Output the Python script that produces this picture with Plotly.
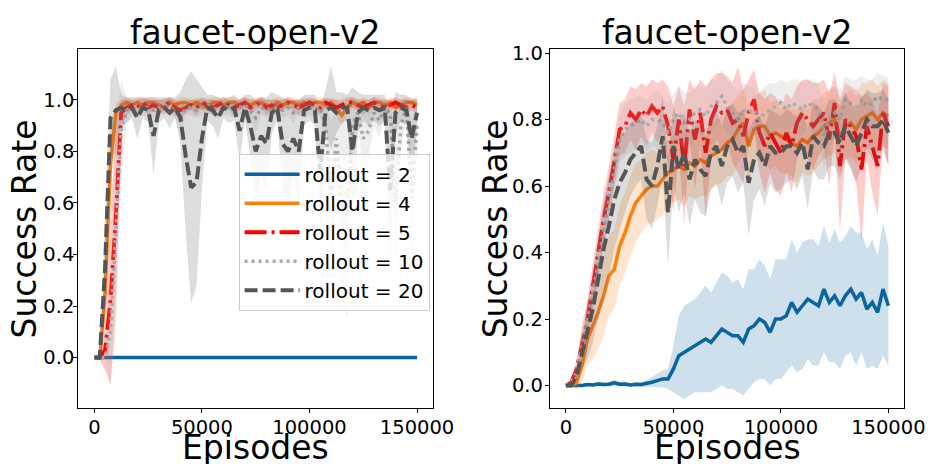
import plotly.graph_objects as go

W, H = 947, 464

# ---------------- data ----------------
episodes = list(range(0, 150001, 2500))  # 61 evaluation points
labels = ["rollout = 2", "rollout = 4", "rollout = 5", "rollout = 10", "rollout = 20"]

# ---- left panel ----
left_r2_mean = [
    0.00, 0.00, 0.00, 0.00, 0.00, 0.00, 0.00, 0.00, 0.00, 0.00,
    0.00, 0.00, 0.00, 0.00, 0.00, 0.00, 0.00, 0.00, 0.00, 0.00,
    0.00, 0.00, 0.00, 0.00, 0.00, 0.00, 0.00, 0.00, 0.00, 0.00,
    0.00, 0.00, 0.00, 0.00, 0.00, 0.00, 0.00, 0.00, 0.00, 0.00,
    0.00, 0.00, 0.00, 0.00, 0.00, 0.00, 0.00, 0.00, 0.00, 0.00,
    0.00, 0.00, 0.00, 0.00, 0.00, 0.00, 0.00, 0.00, 0.00, 0.00,
    0.00]
left_r2_std = [
    0.00, 0.00, 0.00, 0.00, 0.00, 0.00, 0.00, 0.00, 0.00, 0.00,
    0.00, 0.00, 0.00, 0.00, 0.00, 0.00, 0.00, 0.00, 0.00, 0.00,
    0.00, 0.00, 0.00, 0.00, 0.00, 0.00, 0.00, 0.00, 0.00, 0.00,
    0.00, 0.00, 0.00, 0.00, 0.00, 0.00, 0.00, 0.00, 0.00, 0.00,
    0.00, 0.00, 0.00, 0.00, 0.00, 0.00, 0.00, 0.00, 0.00, 0.00,
    0.00, 0.00, 0.00, 0.00, 0.00, 0.00, 0.00, 0.00, 0.00, 0.00,
    0.00]
left_r4_mean = [
    0.00, 0.00, 0.25, 0.75, 0.95, 0.98, 0.99, 0.98, 0.99, 0.98,
    0.99, 0.99, 0.98, 0.97, 0.99, 0.98, 0.99, 0.99, 0.98, 0.99,
    0.98, 0.97, 0.99, 0.99, 0.98, 0.99, 0.99, 0.98, 0.99, 0.98,
    0.99, 0.99, 0.98, 0.97, 0.99, 0.98, 0.99, 0.99, 0.98, 0.99,
    0.98, 0.99, 0.99, 0.98, 0.99, 0.97, 0.94, 0.97, 0.99, 0.98,
    0.99, 0.97, 0.99, 0.99, 0.98, 0.99, 0.97, 0.98, 0.99, 0.99,
    0.98]
left_r4_std = [
    0.00, 0.01, 0.15, 0.12, 0.04, 0.02, 0.02, 0.02, 0.02, 0.02,
    0.02, 0.02, 0.02, 0.03, 0.02, 0.02, 0.02, 0.02, 0.02, 0.02,
    0.02, 0.03, 0.02, 0.02, 0.02, 0.02, 0.02, 0.02, 0.02, 0.02,
    0.02, 0.02, 0.02, 0.03, 0.02, 0.02, 0.02, 0.02, 0.02, 0.02,
    0.02, 0.02, 0.02, 0.02, 0.02, 0.03, 0.04, 0.03, 0.02, 0.02,
    0.02, 0.03, 0.02, 0.02, 0.02, 0.02, 0.03, 0.02, 0.02, 0.02,
    0.02]
left_r5_mean = [
    0.00, 0.00, 0.03, 0.22, 0.55, 0.95, 0.97, 0.98, 0.97, 0.99,
    0.97, 0.98, 0.97, 0.98, 0.99, 0.97, 0.96, 0.97, 0.98, 0.97,
    0.99, 0.98, 0.97, 0.98, 0.99, 0.98, 0.97, 0.98, 0.99, 0.97,
    0.98, 0.99, 0.97, 0.98, 0.97, 0.98, 0.99, 0.98, 0.97, 0.98,
    0.99, 0.98, 0.97, 0.99, 0.98, 0.97, 0.98, 0.99, 0.99, 0.98,
    0.97, 0.98, 0.99, 0.98, 0.97, 0.98, 0.99, 0.98, 0.97, 0.98,
    0.97]
left_r5_std = [
    0.00, 0.01, 0.08, 0.33, 0.35, 0.05, 0.03, 0.02, 0.03, 0.02,
    0.03, 0.02, 0.03, 0.02, 0.02, 0.03, 0.03, 0.02, 0.02, 0.03,
    0.02, 0.02, 0.03, 0.02, 0.02, 0.02, 0.03, 0.02, 0.02, 0.03,
    0.02, 0.02, 0.03, 0.02, 0.03, 0.02, 0.02, 0.02, 0.03, 0.02,
    0.02, 0.02, 0.03, 0.02, 0.02, 0.03, 0.02, 0.02, 0.02, 0.02,
    0.03, 0.02, 0.02, 0.02, 0.03, 0.02, 0.02, 0.02, 0.03, 0.02,
    0.03]
left_r10_mean = [
    0.00, 0.00, 0.00, 0.10, 0.50, 0.88, 0.96, 0.97, 0.96, 0.97,
    0.97, 0.96, 0.97, 0.98, 0.97, 0.96, 0.93, 0.97, 0.97, 0.96,
    0.97, 0.98, 0.97, 0.96, 0.97, 0.97, 0.96, 0.97, 0.98, 0.96,
    0.93, 0.97, 0.96, 0.97, 0.97, 0.96, 0.97, 0.95, 0.97, 0.96,
    0.97, 0.96, 0.97, 0.90, 0.62, 0.85, 0.60, 0.55, 0.90, 0.95,
    0.85, 0.88, 0.95, 0.92, 0.97, 0.95, 0.60, 0.90, 0.97, 0.62,
    0.90]
left_r10_std = [
    0.00, 0.00, 0.01, 0.20, 0.40, 0.20, 0.05, 0.03, 0.03, 0.03,
    0.03, 0.03, 0.03, 0.03, 0.03, 0.03, 0.06, 0.03, 0.03, 0.03,
    0.03, 0.03, 0.03, 0.03, 0.03, 0.03, 0.03, 0.03, 0.03, 0.03,
    0.06, 0.03, 0.03, 0.03, 0.03, 0.03, 0.03, 0.04, 0.03, 0.03,
    0.03, 0.03, 0.03, 0.08, 0.30, 0.12, 0.35, 0.40, 0.10, 0.05,
    0.12, 0.10, 0.05, 0.07, 0.03, 0.05, 0.30, 0.10, 0.04, 0.30,
    0.10]
left_r20_mean = [
    0.00, 0.00, 0.35, 0.93, 0.96, 0.97, 0.96, 0.97, 0.93, 0.97,
    0.96, 0.86, 0.96, 0.97, 0.95, 0.97, 0.93, 0.78, 0.66, 0.68,
    0.85, 0.97, 0.96, 0.93, 0.97, 0.96, 0.97, 0.88, 0.97, 0.90,
    0.80, 0.86, 0.83, 0.95, 0.97, 0.83, 0.80, 0.85, 0.80, 0.96,
    0.97, 0.96, 0.72, 0.96, 0.97, 0.95, 0.97, 0.97, 0.80, 0.95,
    0.97, 0.96, 0.97, 0.96, 0.97, 0.65, 0.95, 0.97, 0.96, 0.85,
    0.95]
left_r20_std = [
    0.00, 0.00, 0.20, 0.15, 0.17, 0.05, 0.05, 0.04, 0.08, 0.04,
    0.05, 0.15, 0.05, 0.04, 0.06, 0.04, 0.10, 0.30, 0.45, 0.40,
    0.20, 0.05, 0.06, 0.08, 0.04, 0.05, 0.05, 0.12, 0.05, 0.12,
    0.20, 0.15, 0.18, 0.08, 0.05, 0.18, 0.20, 0.15, 0.20, 0.06,
    0.05, 0.06, 0.25, 0.08, 0.16, 0.08, 0.06, 0.05, 0.25, 0.08,
    0.05, 0.06, 0.05, 0.06, 0.05, 0.30, 0.08, 0.05, 0.06, 0.15,
    0.06]

# ---- right panel ----
right_r2_mean = [
    0.000, 0.000, 0.000, 0.000, 0.003, 0.002, 0.005, 0.003, 0.004, 0.008,
    0.004, 0.005, 0.002, 0.004, 0.003, 0.006, 0.010, 0.015, 0.020, 0.020,
    0.050, 0.090, 0.100, 0.110, 0.120, 0.130, 0.140, 0.130, 0.150, 0.170,
    0.160, 0.150, 0.150, 0.130, 0.170, 0.180, 0.200, 0.190, 0.160, 0.200,
    0.200, 0.210, 0.250, 0.220, 0.240, 0.260, 0.250, 0.240, 0.290, 0.250,
    0.270, 0.240, 0.270, 0.290, 0.260, 0.280, 0.230, 0.250, 0.220, 0.290,
    0.240]
right_r2_std = [
    0.000, 0.000, 0.002, 0.003, 0.005, 0.005, 0.008, 0.006, 0.007, 0.010,
    0.007, 0.008, 0.005, 0.007, 0.006, 0.010, 0.015, 0.020, 0.025, 0.030,
    0.070, 0.120, 0.140, 0.140, 0.140, 0.150, 0.160, 0.150, 0.160, 0.170,
    0.170, 0.160, 0.170, 0.160, 0.180, 0.170, 0.180, 0.170, 0.160, 0.180,
    0.180, 0.170, 0.190, 0.180, 0.190, 0.180, 0.190, 0.180, 0.190, 0.180,
    0.200, 0.190, 0.180, 0.190, 0.200, 0.180, 0.180, 0.190, 0.170, 0.200,
    0.180]
right_r4_mean = [
    0.00, 0.00, 0.01, 0.06, 0.14, 0.18, 0.22, 0.27, 0.33, 0.35,
    0.42, 0.46, 0.51, 0.55, 0.57, 0.59, 0.60, 0.60, 0.62, 0.64,
    0.65, 0.66, 0.65, 0.67, 0.66, 0.68, 0.67, 0.69, 0.70, 0.71,
    0.73, 0.74, 0.77, 0.79, 0.72, 0.77, 0.78, 0.78, 0.75, 0.76,
    0.75, 0.74, 0.73, 0.72, 0.74, 0.73, 0.75, 0.76, 0.78, 0.79,
    0.80, 0.75, 0.78, 0.79, 0.77, 0.80, 0.81, 0.82, 0.80, 0.82,
    0.81]
right_r4_std = [
    0.00, 0.00, 0.02, 0.05, 0.08, 0.10, 0.11, 0.12, 0.12, 0.12,
    0.12, 0.12, 0.12, 0.12, 0.11, 0.11, 0.11, 0.10, 0.11, 0.10,
    0.10, 0.10, 0.11, 0.10, 0.10, 0.11, 0.10, 0.10, 0.10, 0.10,
    0.10, 0.11, 0.10, 0.10, 0.12, 0.10, 0.10, 0.11, 0.10, 0.10,
    0.11, 0.10, 0.10, 0.11, 0.10, 0.10, 0.11, 0.10, 0.10, 0.10,
    0.10, 0.11, 0.10, 0.10, 0.10, 0.11, 0.10, 0.10, 0.10, 0.10,
    0.10]
right_r5_mean = [
    0.00, 0.01, 0.05, 0.13, 0.20, 0.30, 0.40, 0.50, 0.58, 0.68,
    0.77, 0.78, 0.82, 0.80, 0.83, 0.81, 0.84, 0.82, 0.84, 0.78,
    0.68, 0.80, 0.66, 0.83, 0.74, 0.82, 0.70, 0.80, 0.84, 0.82,
    0.83, 0.79, 0.80, 0.75, 0.82, 0.86, 0.76, 0.72, 0.76, 0.73,
    0.70, 0.76, 0.72, 0.79, 0.82, 0.80, 0.78, 0.80, 0.82, 0.74,
    0.85, 0.66, 0.80, 0.78, 0.75, 0.65, 0.78, 0.72, 0.66, 0.82,
    0.78]
right_r5_std = [
    0.00, 0.01, 0.03, 0.05, 0.06, 0.07, 0.07, 0.08, 0.08, 0.08,
    0.08, 0.08, 0.08, 0.09, 0.08, 0.09, 0.08, 0.09, 0.08, 0.12,
    0.16, 0.10, 0.18, 0.09, 0.15, 0.10, 0.20, 0.12, 0.10, 0.12,
    0.10, 0.12, 0.16, 0.14, 0.10, 0.09, 0.12, 0.14, 0.12, 0.14,
    0.13, 0.12, 0.14, 0.11, 0.10, 0.12, 0.13, 0.11, 0.10, 0.14,
    0.09, 0.20, 0.11, 0.12, 0.14, 0.22, 0.10, 0.14, 0.15, 0.09,
    0.12]
right_r10_mean = [
    0.00, 0.01, 0.04, 0.12, 0.19, 0.28, 0.37, 0.47, 0.56, 0.65,
    0.74, 0.77, 0.78, 0.79, 0.80, 0.78, 0.80, 0.80, 0.79, 0.76,
    0.80, 0.82, 0.79, 0.80, 0.82, 0.83, 0.81, 0.84, 0.85, 0.87,
    0.84, 0.82, 0.80, 0.83, 0.82, 0.83, 0.80, 0.82, 0.83, 0.84,
    0.85, 0.83, 0.85, 0.84, 0.83, 0.85, 0.84, 0.83, 0.75, 0.80,
    0.82, 0.80, 0.86, 0.85, 0.84, 0.86, 0.84, 0.85, 0.87, 0.86,
    0.86]
right_r10_std = [
    0.00, 0.01, 0.03, 0.05, 0.06, 0.06, 0.07, 0.07, 0.07, 0.07,
    0.07, 0.08, 0.08, 0.08, 0.07, 0.08, 0.08, 0.09, 0.08, 0.09,
    0.08, 0.08, 0.09, 0.08, 0.08, 0.07, 0.08, 0.08, 0.07, 0.08,
    0.08, 0.08, 0.09, 0.08, 0.08, 0.07, 0.08, 0.08, 0.08, 0.07,
    0.07, 0.08, 0.07, 0.08, 0.08, 0.07, 0.08, 0.08, 0.10, 0.08,
    0.08, 0.09, 0.07, 0.07, 0.08, 0.07, 0.08, 0.07, 0.07, 0.07,
    0.07]
right_r20_mean = [
    0.00, 0.00, 0.03, 0.10, 0.16, 0.23, 0.32, 0.41, 0.48, 0.56,
    0.61, 0.64, 0.68, 0.70, 0.72, 0.62, 0.60, 0.66, 0.75, 0.52,
    0.72, 0.65, 0.70, 0.62, 0.68, 0.65, 0.63, 0.70, 0.72, 0.66,
    0.72, 0.74, 0.70, 0.72, 0.61, 0.68, 0.70, 0.66, 0.72, 0.70,
    0.70, 0.72, 0.72, 0.70, 0.73, 0.65, 0.75, 0.73, 0.72, 0.76,
    0.76, 0.73, 0.78, 0.75, 0.72, 0.76, 0.80, 0.78, 0.78, 0.80,
    0.76]
right_r20_std = [
    0.00, 0.00, 0.02, 0.05, 0.08, 0.10, 0.12, 0.14, 0.15, 0.15,
    0.14, 0.12, 0.11, 0.10, 0.10, 0.12, 0.13, 0.12, 0.12, 0.16,
    0.12, 0.13, 0.12, 0.14, 0.12, 0.13, 0.12, 0.11, 0.11, 0.12,
    0.11, 0.11, 0.12, 0.11, 0.16, 0.12, 0.11, 0.12, 0.11, 0.12,
    0.11, 0.11, 0.10, 0.11, 0.10, 0.12, 0.10, 0.11, 0.10, 0.10,
    0.10, 0.11, 0.10, 0.10, 0.11, 0.10, 0.09, 0.10, 0.10, 0.09,
    0.10]

x_ticks = [0, 50000, 100000, 150000]
x_ticktext = ["0", "50000", "100000", "150000"]
y_ticks = [0.0, 0.2, 0.4, 0.6, 0.8, 1.0]
y_ticktext = ["0.0", "0.2", "0.4", "0.6", "0.8", "1.0"]

# ---------------- styles ----------------
styles = [
    dict(color="#0a64a0", fill="rgba(10,100,160,0.2)", dash="solid", width=3.5),
    dict(color="#ff7f0e", fill="rgba(255,127,14,0.2)", dash="solid", width=3.5),
    dict(color="#ff0000", fill="rgba(255,0,0,0.2)", dash="22px,5px,3px,5px", width=3.8),
    dict(color="#aaaaaa", fill="rgba(170,170,170,0.2)", dash="3px,4px", width=3.5),
    dict(color="#555555", fill="rgba(85,85,85,0.2)", dash="13px,5px", width=4),
]

FONT = "DejaVu Sans"
fig = go.Figure()


def add_series(xa, ya, mean, std, st, name, showlegend):
    upper = [m + s for m, s in zip(mean, std)]
    lower = [m - s for m, s in zip(mean, std)]
    fig.add_trace(go.Scatter(
        x=episodes + episodes[::-1], y=upper + lower[::-1],
        fill="toself", fillcolor=st["fill"], line=dict(width=0),
        mode="lines", hoverinfo="skip", showlegend=False, xaxis=xa, yaxis=ya))
    fig.add_trace(go.Scatter(
        x=episodes, y=mean, mode="lines", name=name,
        line=dict(color=st["color"], width=st["width"], dash=st["dash"]),
        showlegend=showlegend, xaxis=xa, yaxis=ya))


left = [(left_r2_mean, left_r2_std), (left_r4_mean, left_r4_std), (left_r5_mean, left_r5_std),
        (left_r10_mean, left_r10_std), (left_r20_mean, left_r20_std)]
right = [(right_r2_mean, right_r2_std), (right_r4_mean, right_r4_std), (right_r5_mean, right_r5_std),
         (right_r10_mean, right_r10_std), (right_r20_mean, right_r20_std)]

for (m, s), st, lab in zip(left, styles, labels):
    add_series("x", "y", m, s, st, lab, True)
for (m, s), st, lab in zip(right, styles, labels):
    add_series("x2", "y2", m, s, st, lab, False)

# ---------------- layout ----------------
L0, L1 = 80, 443
R0, R1 = 562.3, 925
T, B = 43, 407
ydom = [1 - B / H, 1 - T / H]


def axis_style(standoff):
    return dict(showline=True, mirror=True, linecolor="black", linewidth=1,
                ticks="outside", ticklen=4, tickwidth=1, tickcolor="black",
                showgrid=False, zeroline=False, ticklabelstandoff=standoff,
                tickfont=dict(family=FONT, size=19.5, color="black"))


fig.update_layout(
    width=W, height=H, margin=dict(l=0, r=0, t=0, b=0),
    paper_bgcolor="white", plot_bgcolor="white",
    font=dict(family=FONT, color="black"),
    xaxis=dict(domain=[L0 / W, L1 / W], range=[-7500, 157500], anchor="y",
               tickvals=x_ticks, ticktext=x_ticktext, **axis_style(-2)),
    yaxis=dict(domain=ydom, range=[-0.195, 1.196], anchor="x",
               tickvals=y_ticks, ticktext=y_ticktext, **axis_style(-5)),
    xaxis2=dict(domain=[R0 / W, R1 / W], range=[-7500, 157500], anchor="y2",
                tickvals=x_ticks, ticktext=x_ticktext, **axis_style(-2)),
    yaxis2=dict(domain=ydom, range=[-0.067, 1.011], anchor="x2",
                tickvals=y_ticks, ticktext=y_ticktext, **axis_style(-2)),
    legend=dict(x=244 / W, y=1 - 149 / H, xanchor="left", yanchor="top",
                bgcolor="rgba(255,255,255,0.8)", bordercolor="#cccccc", borderwidth=1,
                itemwidth=55,
                font=dict(family=FONT, size=20, color="black")),
    showlegend=True,
)

ann = []
for cx in [(L0 + L1) / 2, (R0 + R1) / 2]:
    ann.append(dict(text="faucet-open-v2", x=cx / W, y=1 - 25.5 / H, xref="paper", yref="paper",
                    xanchor="center", yanchor="middle", showarrow=False,
                    font=dict(family=FONT, size=33, color="black")))
    ann.append(dict(text="Episodes", x=cx / W, y=1 - 447 / H, xref="paper", yref="paper",
                    xanchor="center", yanchor="middle", showarrow=False,
                    font=dict(family=FONT, size=33, color="black")))
for yx in [25.5, 507]:
    ann.append(dict(text="Success Rate", x=yx / W, y=1 - ((T + B) / 2) / H, xref="paper", yref="paper",
                    xanchor="center", yanchor="middle", textangle=-90, showarrow=False,
                    font=dict(family=FONT, size=33, color="black")))
fig.update_layout(annotations=ann)

fig.write_html("out.html")
